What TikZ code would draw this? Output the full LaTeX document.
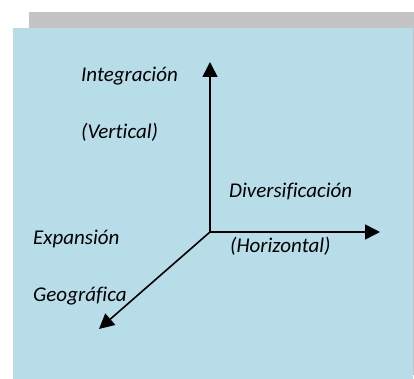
\documentclass[tikz,border=0pt]{standalone}
\usepackage{fontspec}
\setmainfont[Ligatures={NoCommon}]{Carlito}
\usetikzlibrary{arrows.meta}
\definecolor{boxblue}{HTML}{B7DDE8}
\definecolor{shadowgray}{HTML}{C4C4C4}
\tikzset{
  lbl/.style={anchor=base west, inner sep=0pt, font=\fontsize{21}{25}\selectfont\itshape},
  axis/.style={line width=1.6pt, -{Triangle[length=15pt,width=15pt]}}
}
\begin{document}
\begin{tikzpicture}[x=1pt,y=-1pt]
\useasboundingbox (0,0) rectangle (414,379);
\fill[shadowgray] (29,12) rectangle (414,375);
\fill[boxblue] (13,28) rectangle (413,379);
\coordinate (o) at (210,232);
\coordinate (top) at (210,62);
\coordinate (right) at (380,232);
\coordinate (dl) at (99,329);
\draw[axis] (o) -- (top);
\draw[axis] (o) -- (right);
\draw[axis] (o) -- (dl);
\node[lbl] (integ) at (81,82) {Integración};
\node[lbl] (vert) at (81,139) {(Vertical)};
\node[lbl] (div) at (229,197) {Diversificación};
\node[lbl] (hor) at (230,252) {(Horizontal)};
\node[lbl] (exp) at (33,244) {Expansión};
\node[lbl] (geo) at (33,301) {Geográfica};
\end{tikzpicture}
\end{document}
